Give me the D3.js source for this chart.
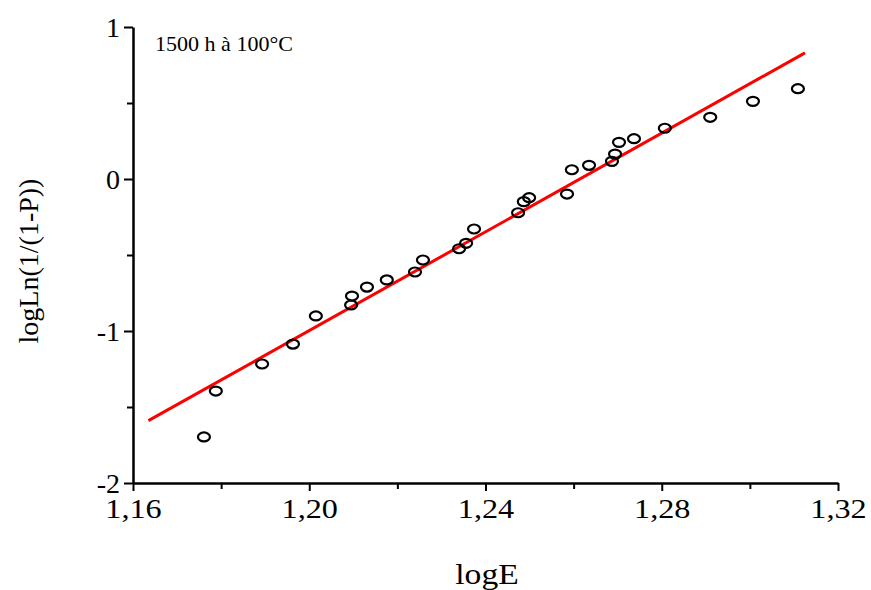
<!DOCTYPE html>
<html>
<head>
<meta charset="utf-8">
<script src="https://cdn.jsdelivr.net/npm/d3@7"></script>
<style>
  body { margin: 0; background: #fff; }
  text { font-family: "Liberation Serif", "Times New Roman", serif; fill: #000; }
</style>
</head>
<body>
<div class="chart"></div>
<script>
const svgWidth = 871
const svgHeight = 590

// plot area in pixels
let margin = { top: 27, right: 33, bottom: 107, left: 133 }
let width = svgWidth - margin.left - margin.right
let height = svgHeight - margin.top - margin.bottom

// ---- data ----
let logE = [1.1761, 1.1788, 1.1893, 1.1963, 1.2015, 1.2095, 1.2097, 1.2131, 1.2176, 1.2240,
  1.2258, 1.2340, 1.2356, 1.2374, 1.2474, 1.2487, 1.2499, 1.2585, 1.2596, 1.2635,
  1.2687, 1.2694, 1.2703, 1.2737, 1.2807, 1.2910, 1.3007, 1.3109]
let logLn = [-1.697, -1.395, -1.217, -1.086, -0.901, -0.829, -0.770, -0.711, -0.664, -0.612,
  -0.533, -0.459, -0.423, -0.329, -0.222, -0.149, -0.123, -0.099, 0.061, 0.090,
  0.116, 0.164, 0.241, 0.265, 0.334, 0.406, 0.511, 0.594]

// fitted line end points
let fitX = [1.1635, 1.3125]
let fitY = [-1.59, 0.83]

let xTicks = [1.16, 1.20, 1.24, 1.28, 1.32]
let xMinor = [1.18, 1.22, 1.26, 1.30]
let yTicks = [-2, -1, 0, 1]
let yMinor = [-1.5, -0.5, 0.5]

let points = logE.map((d, i) => ({ x: d, y: logLn[i] }))
let fit = fitX.map((d, i) => ({ x: d, y: fitY[i] }))

let svg = d3.select(".chart")
  .append("svg")
  .attr("width", svgWidth)
  .attr("height", svgHeight)

let chartGroup = svg.append("g")
  .attr("transform", `translate(${margin.left}, ${margin.top})`)

let xScale = d3.scaleLinear().domain([1.16, 1.32]).range([0, width])
let yScale = d3.scaleLinear().domain([-2, 1]).range([height, 0])

// minor ticks first, axes on top
chartGroup.append("g")
  .attr("transform", `translate(0, ${height})`)
  .call(d3.axisBottom(xScale).tickValues(xMinor).tickSize(6).tickFormat(""))
  .call(g => g.select(".domain").remove())
  .selectAll("line").attr("stroke-width", 2)

chartGroup.append("g")
  .call(d3.axisLeft(yScale).tickValues(yMinor).tickSize(6).tickFormat(""))
  .call(g => g.select(".domain").remove())
  .selectAll("line").attr("stroke-width", 2)

let xAxis = chartGroup.append("g")
  .attr("transform", `translate(0, ${height})`)
  .call(d3.axisBottom(xScale)
    .tickValues(xTicks)
    .tickSize(8)
    .tickSizeOuter(0)
    .tickPadding(7)
    .tickFormat(d => d3.format(".2f")(d).replace(".", ",")))

let yAxis = chartGroup.append("g")
  .call(d3.axisLeft(yScale)
    .tickValues(yTicks)
    .tickSize(9)
    .tickSizeOuter(0)
    .tickPadding(4)
    .tickFormat(d => String(d)))

;[xAxis, yAxis].forEach(ax => {
  ax.select(".domain").attr("stroke-width", 2.5)
  ax.selectAll(".tick line").attr("stroke-width", 2)
  ax.selectAll("text")
    .attr("font-family", "Liberation Serif")
    .attr("font-size", 28)
    .attr("fill", "#000")
})
xAxis.selectAll("text").attr("transform", "scale(1.15,1)")
yAxis.selectAll("text").attr("dy", "0.33em")

// fitted line
chartGroup.append("path")
  .datum(fit)
  .attr("fill", "none")
  .attr("stroke", "#ff0000")
  .attr("stroke-width", 3)
  .attr("d", d3.line().x(d => xScale(d.x)).y(d => yScale(d.y)))

// data points (slightly flattened circles)
chartGroup.selectAll("ellipse.pt")
  .data(points)
  .enter()
  .append("ellipse")
  .attr("class", "pt")
  .attr("cx", d => xScale(d.x))
  .attr("cy", d => yScale(d.y))
  .attr("rx", 6)
  .attr("ry", 4.5)
  .attr("fill", "none")
  .attr("stroke", "#000")
  .attr("stroke-width", 2.2)

// annotation
chartGroup.append("text")
  .attr("x", 22)
  .attr("y", 24)
  .attr("font-size", 21)
  .attr("textLength", 138)
  .attr("lengthAdjust", "spacingAndGlyphs")
  .text("1500 h à 100°C")

// axis titles
svg.append("text")
  .attr("transform", "translate(487, 584) scale(1.12,1)")
  .attr("text-anchor", "middle")
  .attr("font-size", 30)
  .text("logE")

svg.append("text")
  .attr("transform", "translate(38, 261) rotate(-90)")
  .attr("text-anchor", "middle")
  .attr("font-size", 28)
  .text("logLn(1/(1-P))")
</script>
</body>
</html>
